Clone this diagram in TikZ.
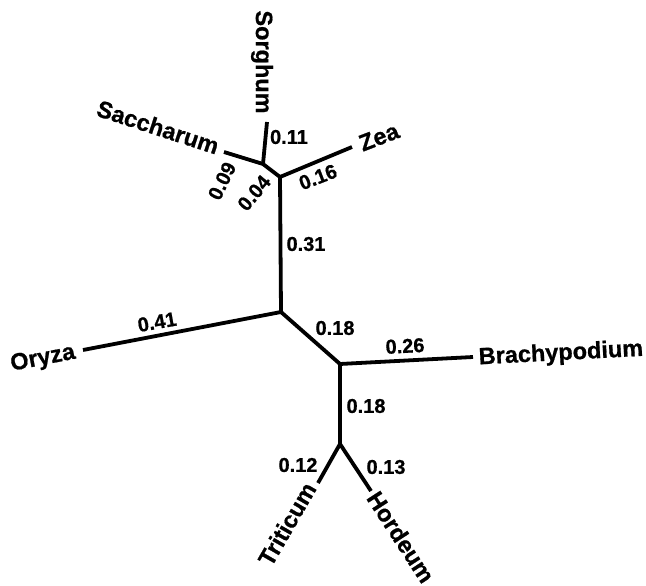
\documentclass[tikz,border=0pt]{standalone}
\usepackage{fontspec}
\setmainfont[BoldFeatures={FakeBold=0.8}]{Liberation Sans}
\begin{document}
\begin{tikzpicture}[x=1pt,y=-1pt,
  branch/.style={line width=3.8pt, line cap=butt, line join=round},
  joint/.style={circle, fill=black, inner sep=0pt, minimum size=3.8pt},
  taxon/.style={font=\fontsize{23.5}{25}\selectfont\bfseries, inner sep=0pt},
  blen/.style={font=\fontsize{20}{22}\selectfont\bfseries, inner sep=0pt}]
\useasboundingbox (0,0) rectangle (646,586);

% internal nodes
\coordinate (nSS) at (263,164);
\coordinate (nZ)  at (280,177);
\coordinate (nC)  at (281,312);
\coordinate (nB)  at (340,364);
\coordinate (nTH) at (340,444);

% leaf tips
\coordinate (tSorghum)   at (267,122);
\coordinate (tSaccharum) at (224,152);
\coordinate (tZea)       at (352,147);
\coordinate (tOryza)     at (83,350);
\coordinate (tBrachy)    at (473,357);
\coordinate (tTriticum)  at (318,483);
\coordinate (tHordeum)   at (371,491);

% branches
\draw[branch] (tSaccharum) -- (nSS) -- (nZ) -- (nC) -- (nB) -- (nTH) -- (tTriticum);
\draw[branch] (tSorghum) -- (nSS);
\draw[branch] (tZea) -- (nZ);
\draw[branch] (tOryza) -- (nC);
\draw[branch] (tBrachy) -- (nB);
\draw[branch] (tHordeum) -- (nTH);
\foreach \j in {nSS,nZ,nC,nB,nTH} \node[joint] (j\j) at (\j) {};

% taxon names
\node[taxon, rotate=-90] (lSorghum)   at (262,62)  {Sorghum};
\node[taxon, rotate=-18] (lSaccharum) at (158,127) {Saccharum};
\node[taxon, rotate=21]  (lZea)       at (379,137) {Zea};
\node[taxon, rotate=11]  (lOryza)     at (43,359)  {Oryza};
\node[taxon, rotate=3]   (lBrachy)    at (561,354) {Brachypodium};
\node[taxon, rotate=60]  (lTriticum)  at (287,524) {Triticum};
\node[taxon, rotate=-57] (lHordeum)   at (401,537) {Hordeum};

% branch lengths
\node[blen]              (b11) at (289,137) {0.11};
\node[blen, rotate=64]   (b09) at (222,181) {0.09};
\node[blen, rotate=50]   (b04) at (254,193) {0.04};
\node[blen, rotate=21]   (b16) at (318,177) {0.16};
\node[blen]              (b31) at (306,244) {0.31};
\node[blen, rotate=10]   (b41) at (157,322) {0.41};
\node[blen]              (b18a) at (335,328) {0.18};
\node[blen, rotate=3]    (b26) at (405,346) {0.26};
\node[blen]              (b18b) at (366,406) {0.18};
\node[blen]              (b12) at (298,465) {0.12};
\node[blen]              (b13) at (386,467) {0.13};
\end{tikzpicture}
\end{document}
